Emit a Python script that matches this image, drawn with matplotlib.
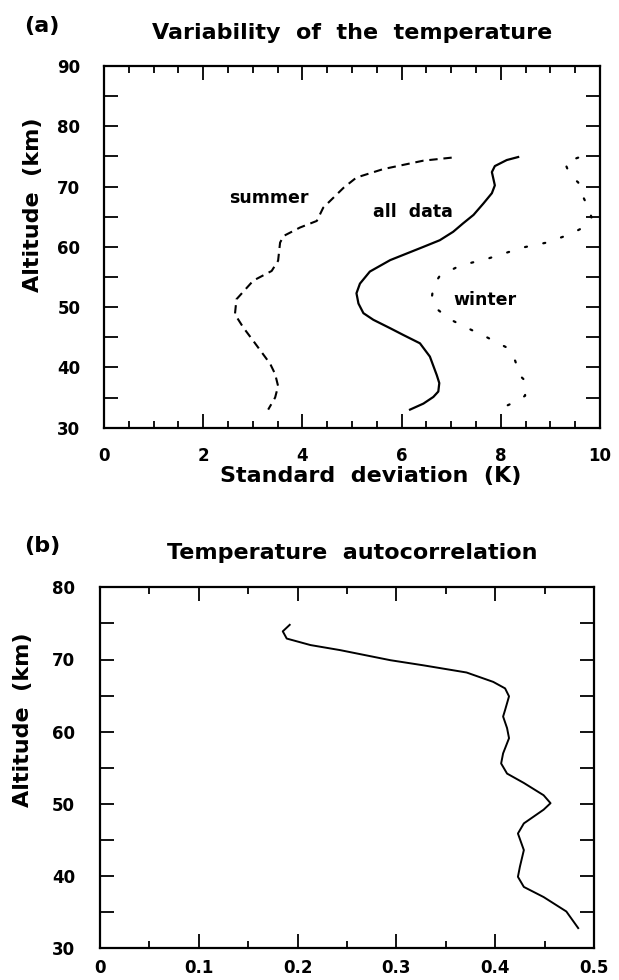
import matplotlib
matplotlib.use("Agg")
import matplotlib.pyplot as plt
from matplotlib.ticker import MultipleLocator

plt.rcParams['font.family'] = ['DejaVu Sans']
plt.rcParams['font.weight'] = 'bold'

# (a) standard deviation of temperature (K) vs altitude (km)
all_std = [8.35, 8.12, 7.88, 7.82, 7.85, 7.88, 7.82, 7.65, 7.45, 7.24, 7.04, 6.77,
           6.44, 5.77, 5.36, 5.16, 5.09, 5.13, 5.23, 5.43, 5.77, 6.03, 6.37, 6.57,
           6.71, 6.76, 6.74, 6.64, 6.44, 6.17]
all_alt = [74.9, 74.4, 73.4, 72.4, 71.3, 70.2, 68.9, 67.2, 65.3, 63.9, 62.5, 61.1,
           60.0, 57.8, 55.9, 53.9, 52.3, 50.6, 49.0, 47.9, 46.5, 45.4, 44.0, 41.8,
           38.7, 37.4, 36.0, 35.1, 34.0, 33.0]

summer_std = [7.01, 6.44, 5.63, 5.09, 4.83, 4.42, 4.29, 3.95, 3.62, 3.55, 3.51, 3.38,
              3.01, 2.67, 2.64, 2.81, 3.01, 3.35, 3.45, 3.51, 3.45, 3.31]
summer_alt = [74.8, 74.3, 72.9, 71.5, 69.8, 66.5, 64.3, 63.2, 61.8, 60.7, 57.7, 56.0,
              54.4, 51.3, 48.8, 46.6, 44.4, 40.6, 38.9, 36.9, 35.0, 33.0]

winter_std = [9.56, 9.29, 9.40, 9.56, 9.63, 9.73, 9.83, 9.66, 9.40, 8.92, 8.45, 7.72,
              7.18, 6.77, 6.64, 6.61, 6.71, 6.97, 7.31, 7.72, 8.12, 8.29, 8.39, 8.49,
              8.49, 8.32, 8.08, 7.85]
winter_alt = [74.8, 74.0, 71.8, 70.7, 68.8, 67.1, 64.9, 63.2, 62.1, 60.7, 59.9, 58.0,
              56.9, 55.2, 53.5, 51.6, 49.7, 48.0, 46.6, 45.0, 43.3, 41.1, 38.6, 37.8,
              35.3, 34.4, 33.5, 33.0]

# (b) temperature autocorrelation vs altitude
acorr = [0.192, 0.185, 0.189, 0.213, 0.243, 0.294, 0.327, 0.371, 0.398, 0.410, 0.414,
         0.410, 0.408, 0.412, 0.414, 0.408, 0.406, 0.412, 0.429, 0.449, 0.456, 0.449,
         0.429, 0.423, 0.429, 0.425, 0.423, 0.429, 0.449, 0.472, 0.484]
acorr_alt = [74.8, 73.9, 72.9, 72.0, 71.3, 69.9, 69.2, 68.2, 66.9, 66.0, 64.9,
             63.0, 62.1, 60.5, 59.1, 57.0, 55.6, 54.2, 52.9, 51.2, 50.1, 49.2,
             47.3, 45.9, 43.6, 41.3, 39.9, 38.5, 37.1, 35.1, 32.8]

W, H = 619, 980
fig = plt.figure(figsize=(W / 100, H / 100), dpi=100)


def box(l, t, r, b):
    return [l / W, 1 - b / H, (r - l) / W, (b - t) / H]


def style(ax, xpad, ypad):
    for s in ax.spines.values():
        s.set_linewidth(1.6)
    ax.tick_params(which='both', direction='in', top=True, right=True,
                   width=1.3, labelsize=12)
    ax.tick_params(axis='x', which='major', length=10, pad=xpad)
    ax.tick_params(axis='x', which='minor', length=5)
    ax.tick_params(axis='y', which='both', length=10, pad=ypad)


# ---- panel a ----
ax1 = fig.add_axes(box(104, 66, 600, 427.7))
ax1.plot(all_std, all_alt, color='black', lw=1.6, solid_joinstyle='round')
ax1.plot(summer_std, summer_alt, color='black', lw=1.5, dashes=(4, 2.8))
ax1.plot(winter_std, winter_alt, color='black', lw=1.6, dashes=(0.9, 7.5),
         dash_capstyle='round')
ax1.set_xlim(0, 10)
ax1.set_ylim(30, 90)
ax1.xaxis.set_major_locator(MultipleLocator(2))
ax1.xaxis.set_minor_locator(MultipleLocator(0.5))
ax1.yaxis.set_major_locator(MultipleLocator(10))
ax1.yaxis.set_minor_locator(MultipleLocator(5))
style(ax1, 14, 17)
ax1.text(3.33, 68.1, 'summer', fontsize=12.5, ha='center', va='center')
ax1.text(6.23, 65.75, 'all  data', fontsize=12.5, ha='center', va='center')
ax1.text(7.68, 51.2, 'winter', fontsize=12.5, ha='center', va='center')

fig.text(42 / W, 1 - 26 / H, '(a)', fontsize=16, ha='center', va='center')
fig.text(352 / W, 1 - 33 / H, 'Variability  of  the  temperature', fontsize=16,
         ha='center', va='center')
fig.text(33 / W, 1 - 205 / H, 'Altitude  (km)', fontsize=16, rotation=90,
         ha='center', va='center')
fig.text(371 / W, 1 - 476 / H, 'Standard  deviation  (K)', fontsize=16,
         ha='center', va='center')

# ---- panel b ----
ax2 = fig.add_axes(box(100, 587.3, 594, 948.3))
ax2.plot(acorr, acorr_alt, color='black', lw=1.4, solid_joinstyle='round')
ax2.set_xlim(0, 0.5)
ax2.set_ylim(30, 80)
ax2.xaxis.set_major_locator(MultipleLocator(0.1))
ax2.xaxis.set_minor_locator(MultipleLocator(0.05))
ax2.yaxis.set_major_locator(MultipleLocator(10))
ax2.yaxis.set_minor_locator(MultipleLocator(5))
ax2.set_xticks([0, 0.1, 0.2, 0.3, 0.4, 0.5])
ax2.set_xticklabels(['0', '0.1', '0.2', '0.3', '0.4', '0.5'])
style(ax2, 8, 18)

fig.text(42 / W, 1 - 546 / H, '(b)', fontsize=16, ha='center', va='center')
fig.text(352 / W, 1 - 553 / H, 'Temperature  autocorrelation', fontsize=16,
         ha='center', va='center')
fig.text(23 / W, 1 - 720 / H, 'Altitude  (km)', fontsize=16, rotation=90,
         ha='center', va='center')

fig.savefig('out.png', dpi=100)
